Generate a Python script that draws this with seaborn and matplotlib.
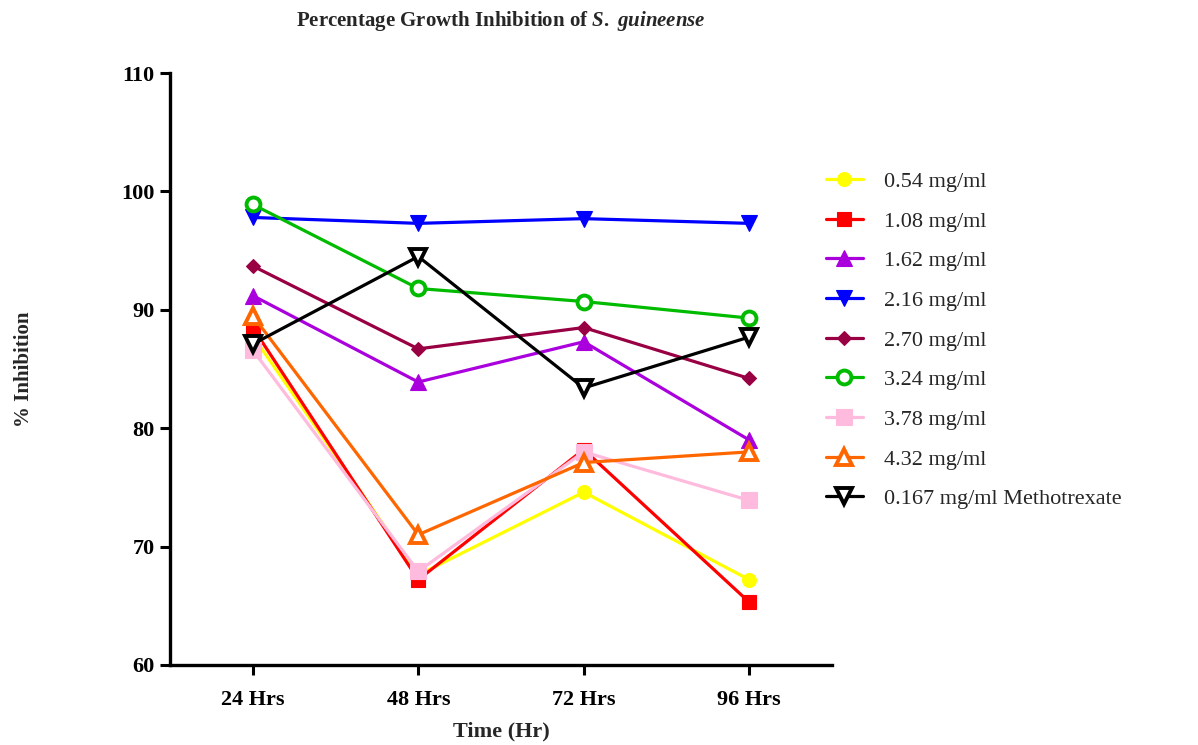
import matplotlib
matplotlib.use("Agg")
import matplotlib.pyplot as plt
import seaborn as sns
import pandas as pd

times = ["24 Hrs", "48 Hrs", "72 Hrs", "96 Hrs"]
series_names = ["0.54 mg/ml", "1.08 mg/ml", "1.62 mg/ml", "2.16 mg/ml", "2.70 mg/ml",
                "3.24 mg/ml", "3.78 mg/ml", "4.32 mg/ml", "0.167 mg/ml Methotrexate"]
v_054 = [87.8, 67.6, 74.6, 67.2]
v_108 = [88.5, 67.2, 78.2, 65.3]
v_162 = [91.2, 83.9, 87.3, 79.0]
v_216 = [97.8, 97.3, 97.7, 97.3]
v_270 = [93.7, 86.7, 88.5, 84.2]
v_324 = [98.9, 91.8, 90.7, 89.3]
v_378 = [86.6, 67.9, 78.0, 73.9]
v_432 = [89.5, 71.0, 77.1, 78.0]
v_mtx = [87.1, 94.5, 83.4, 87.7]
values = [v_054, v_108, v_162, v_216, v_270, v_324, v_378, v_432, v_mtx]

colors = ["#FFFF00", "#FF0000", "#AA00DD", "#0000FF", "#990044",
          "#00BB00", "#FFBBDD", "#FF6600", "#000000"]
markers = ["o", "s", "^", "v", "D", "o", "s", "^", "v"]
open_marker = [False, False, False, False, False, True, False, True, True]
msizes = [10, 10, 11, 11, 7.5, 10, 11, 11, 11]

sns.set_theme(style="ticks")
plt.rcParams["font.family"] = ["Liberation Serif", "DejaVu Serif"]
plt.rcParams["mathtext.fontset"] = "custom"
plt.rcParams["mathtext.it"] = "Liberation Serif:italic:bold"
plt.rcParams["mathtext.rm"] = "Liberation Serif:bold"

fig = plt.figure(figsize=(11.98, 7.45), dpi=100)
ax = fig.add_axes([0.1419, 0.1074, 0.5526, 0.7946])

for name, vals, c, m, op, ms in zip(series_names, values, colors, markers, open_marker, msizes):
    df = pd.DataFrame({"time": times, "val": vals})
    sns.lineplot(data=df, x="time", y="val", ax=ax, color=c, marker=m,
                 markersize=ms, linewidth=2.3, label=name, sort=False,
                 markerfacecolor="white" if op else c,
                 markeredgecolor=c, markeredgewidth=2.8 if op else 0.8)

ax.set_xlim(-0.5, 3.5)
ax.set_ylim(60, 110)
ax.set_yticks([60, 70, 80, 90, 100, 110])
ax.set_xticks(range(len(times)))
ax.set_xticklabels(times)
for s in ["top", "right"]:
    ax.spines[s].set_visible(False)
for s in ["left", "bottom"]:
    ax.spines[s].set_linewidth(2.4)
    ax.spines[s].set_color("black")
ax.tick_params(axis="y", direction="out", length=7, width=2.2, colors="black",
               labelsize=16, pad=4)
ax.tick_params(axis="x", direction="out", length=7, width=2.2, colors="black",
               labelsize=16, pad=11)
for lab in ax.get_xticklabels() + ax.get_yticklabels():
    lab.set_fontweight("bold")

ax.set_xlabel("Time (Hr)", fontsize=16, fontweight="bold")
ax.xaxis.set_label_coords(0.5, -0.095)
ax.set_ylabel("% Inhibition", fontsize=15, fontweight="bold")
ax.yaxis.set_label_coords(-0.205, 0.5)
ax.set_title(r"Percentage Growth Inhibition of $S.\ guineense$", fontsize=15,
             fontweight="bold", pad=34)

leg = ax.legend(loc="upper left", bbox_to_anchor=(0.6895, 0.770),
                bbox_transform=fig.transFigure, frameon=False,
                fontsize=16, handlelength=1.65, labelspacing=0.86, handletextpad=0.95,
                borderaxespad=0.0, borderpad=0.0)

fig.savefig("out.png", dpi=100)
